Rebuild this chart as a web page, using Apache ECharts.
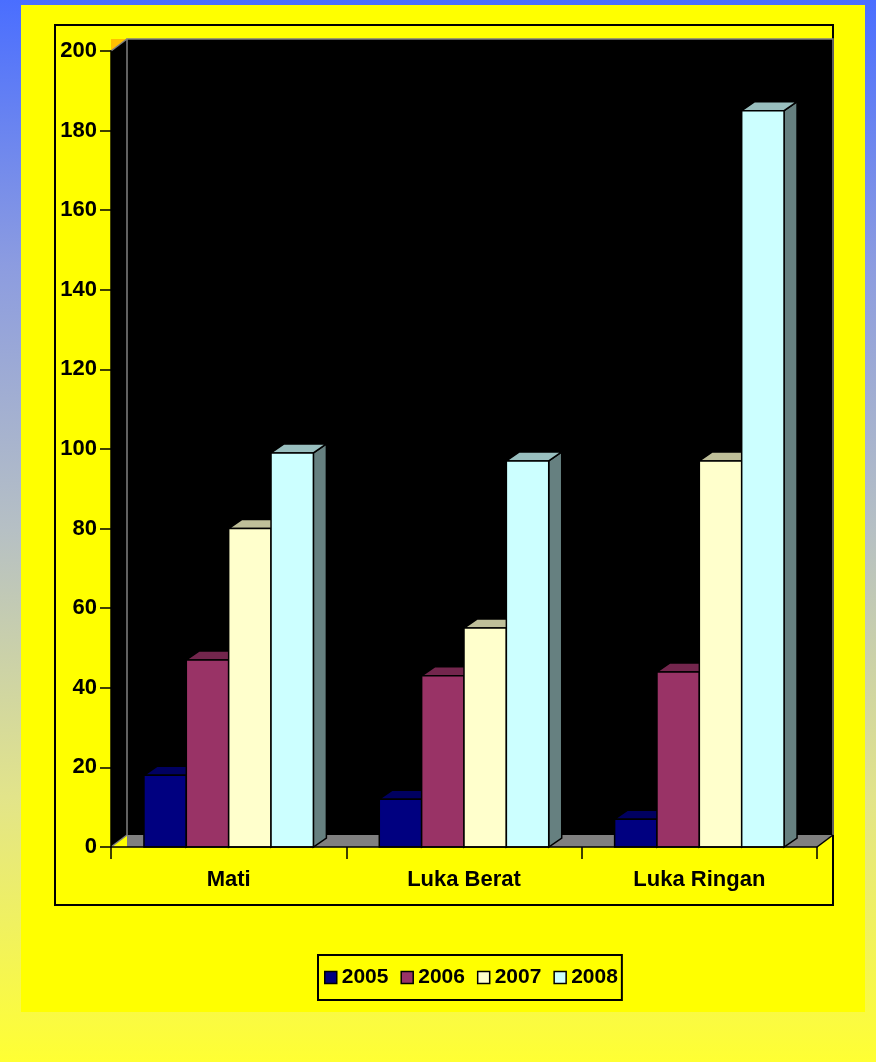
<!DOCTYPE html>
<html>
<head>
<meta charset="utf-8">
<script src="https://cdn.jsdelivr.net/npm/echarts@6/dist/echarts.min.js"></script>
<style>
  html, body { margin: 0; padding: 0; }
  body {
    width: 876px; height: 1062px; overflow: hidden; position: relative;
    background: linear-gradient(to bottom, #4A6EFF 0%, #8C9CE0 25%, #B6C0C4 50%, #E2E48A 75%, #FFFF33 100%);
  }
  #panel { position: absolute; left: 21px; top: 5px; width: 844px; height: 1007px; background: #FFFF00; }
  #chart { position: absolute; left: 0; top: 0; width: 876px; height: 1062px; }
</style>
</head>
<body>
<div id="panel"></div>
<div id="chart"></div>
<script>
// ---- data ----
const categories = ['Mati', 'Luka Berat', 'Luka Ringan'];
const years = ['2005', '2006', '2007', '2008'];
const v2005 = [18, 12, 7];
const v2006 = [47, 43, 44];
const v2007 = [80, 55, 97];
const v2008 = [99, 97, 185];
const yMin = 0, yMax = 200, yStep = 20;

const seriesValues = [v2005, v2006, v2007, v2008];
const frontColors = ['#000080', '#993366', '#FFFFCC', '#CCFFFF'];

function shade(hex, f) {
  const n = parseInt(hex.slice(1), 16);
  const r = Math.round(((n >> 16) & 255) * f);
  const g = Math.round(((n >> 8) & 255) * f);
  const b = Math.round((n & 255) * f);
  return 'rgb(' + r + ',' + g + ',' + b + ')';
}

const FONT = '"Liberation Sans", Arial, sans-serif';
const BAR_DX = 13, BAR_DY = -9;
const WALL_DX = 16, WALL_DY = -12;

function wallsRender(params, api) {
  const cs = params.coordSys;
  const L = cs.x, T = cs.y, R = cs.x + cs.width, B = cs.y + cs.height;
  const dx = WALL_DX, dy = WALL_DY;
  return {
    type: 'group',
    children: [
      { type: 'polygon', shape: { points: [[L, T + dy], [L + dx, T + dy], [L, T]] },
        style: { fill: '#FFC000' } },
      { type: 'polygon', shape: { points: [[L, T], [L + dx, T + dy], [L + dx, B + dy], [L, B]] },
        style: { fill: '#000' } },
      { type: 'rect', shape: { x: L + dx, y: T + dy, width: R - L, height: B - T },
        style: { fill: '#000' } },
      { type: 'polyline', shape: { points: [[L + dx, B + dy], [L + dx, T + dy], [R + dx, T + dy], [R + dx, B + dy]] },
        style: { stroke: '#808080', lineWidth: 1.5, fill: null } },
      { type: 'line', shape: { x1: L, y1: T, x2: L + dx, y2: T + dy },
        style: { stroke: '#808080', lineWidth: 1.5 } },
      { type: 'polygon', shape: { points: [[L + dx, B + dy], [R + dx, B + dy], [R, B], [L + dx, B]] },
        style: { fill: '#808080' } },
      { type: 'line', shape: { x1: L, y1: B, x2: L + dx, y2: B + dy },
        style: { stroke: '#808080', lineWidth: 1.5 } },
      { type: 'line', shape: { x1: R, y1: B, x2: R + dx, y2: B + dy },
        style: { stroke: '#000', lineWidth: 1.5 } }
    ]
  };
}

function barRender(k) {
  const front = frontColors[k];
  const topC = shade(front, 0.75);
  const sideC = shade(front, 0.5);
  return function (params, api) {
    const cat = api.value(0), val = api.value(1);
    const base = api.coord([cat, 0]);
    const top = api.coord([cat, val]);
    const band = api.size([1, 0])[0];
    const w = band * 0.18;
    const x = base[0] - 2 * w + k * w;
    const yb = base[1], yt = top[1];
    const dx = BAR_DX, dy = BAR_DY;
    const st = { stroke: '#000', lineWidth: 1.5, lineJoin: 'miter' };
    return {
      type: 'group',
      children: [
        { type: 'polygon', shape: { points: [[x + w, yt], [x + w + dx, yt + dy], [x + w + dx, yb + dy], [x + w, yb]] },
          style: Object.assign({ fill: sideC }, st) },
        { type: 'polygon', shape: { points: [[x, yt], [x + dx, yt + dy], [x + w + dx, yt + dy], [x + w, yt]] },
          style: Object.assign({ fill: topC }, st) },
        { type: 'rect', shape: { x: x, y: yt, width: w, height: yb - yt },
          style: Object.assign({ fill: front }, st) }
      ]
    };
  };
}

const series = [{
  type: 'custom',
  name: 'walls',
  renderItem: wallsRender,
  data: [[0, 0]],
  encode: { x: 0, y: 1 },
  silent: true,
  z: 1
}];
years.forEach(function (yr, k) {
  series.push({
    type: 'custom',
    name: yr,
    renderItem: barRender(k),
    itemStyle: { color: frontColors[k], borderColor: '#000', borderWidth: 1.5 },
    data: categories.map(function (c, i) { return [i, seriesValues[k][i]]; }),
    encode: { x: 0, y: 1 },
    z: 2
  });
});

const chart = echarts.init(document.getElementById('chart'), null, { renderer: 'canvas' });
chart.setOption({
  animation: false,
  backgroundColor: 'transparent',
  color: frontColors,
  textStyle: { fontFamily: FONT },
  graphic: [{
    type: 'rect',
    shape: { x: 55, y: 25, width: 778, height: 880 },
    style: { fill: null, stroke: '#000', lineWidth: 2 },
    z: 0
  }],
  grid: { left: 111, top: 51, width: 706, height: 796 },
  xAxis: {
    type: 'category',
    data: categories,
    z: 10,
    axisLine: { lineStyle: { color: '#000', width: 1.5 } },
    axisTick: { show: true, length: 12, lineStyle: { color: '#000', width: 1.5 } },
    axisLabel: { color: '#000', fontSize: 22, fontWeight: 'bold', fontFamily: FONT, margin: 22 },
    splitLine: { show: false }
  },
  yAxis: {
    type: 'value',
    min: yMin, max: yMax, interval: yStep,
    z: 10,
    axisLine: { show: true, lineStyle: { color: '#000', width: 1.5 } },
    axisTick: { show: true, length: 11, lineStyle: { color: '#000', width: 1.5 } },
    axisLabel: { color: '#000', fontSize: 22, fontWeight: 'bold', fontFamily: FONT, margin: 14 },
    splitLine: { show: false }
  },
  legend: {
    data: years,
    left: 318, top: 955,
    orient: 'horizontal',
    backgroundColor: 'transparent',
    borderColor: '#000', borderWidth: 2,
    padding: [12, 4, 12, 6],
    itemWidth: 12, itemHeight: 12, itemGap: 12,
    icon: 'rect',
    itemStyle: { borderColor: '#000', borderWidth: 1.5 },
    selectedMode: false,
    textStyle: { color: '#000', fontSize: 21, fontWeight: 'bold', fontFamily: FONT }
  },
  series: series
});
</script>
</body>
</html>
